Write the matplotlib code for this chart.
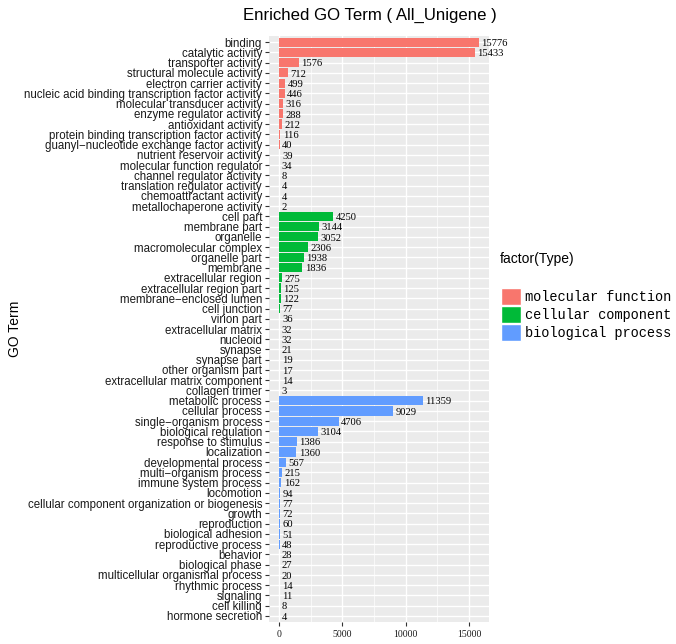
import matplotlib.pyplot as plt
from matplotlib.patches import Patch
from matplotlib.ticker import MultipleLocator

# 分子功能
mf_terms = ['binding', 'catalytic activity', 'transporter activity', 'structural molecule activity',
            'electron carrier activity', 'nucleic acid binding transcription factor activity',
            'molecular transducer activity', 'enzyme regulator activity', 'antioxidant activity',
            'protein binding transcription factor activity', 'guanyl\u2212nucleotide exchange factor activity',
            'nutrient reservoir activity', 'molecular function regulator', 'channel regulator activity',
            'translation regulator activity', 'chemoattractant activity', 'metallochaperone activity']
mf_counts = [15776, 15433, 1576, 712, 499, 446, 316, 288, 212, 116, 40, 39, 34, 8, 4, 4, 2]

# 细胞组分
cc_terms = ['cell part', 'membrane part', 'organelle', 'macromolecular complex', 'organelle part',
            'membrane', 'extracellular region', 'extracellular region part', 'membrane\u2212enclosed lumen',
            'cell junction', 'virion part', 'extracellular matrix', 'nucleoid', 'synapse', 'synapse part',
            'other organism part', 'extracellular matrix component', 'collagen trimer']
cc_counts = [4250, 3144, 3052, 2306, 1938, 1836, 275, 125, 122, 77, 36, 32, 32, 21, 19, 17, 14, 3]

# 生物过程
bp_terms = ['metabolic process', 'cellular process', 'single\u2212organism process', 'biological regulation',
            'response to stimulus', 'localization', 'developmental process', 'multi\u2212organism process',
            'immune system process', 'locomotion', 'cellular component organization or biogenesis',
            'growth', 'reproduction', 'biological adhesion', 'reproductive process', 'behavior',
            'biological phase', 'multicellular organismal process', 'rhythmic process', 'signaling',
            'cell killing', 'hormone secretion']
bp_counts = [11359, 9029, 4706, 3104, 1386, 1360, 567, 215, 162, 94, 77, 72, 60, 51, 48, 28, 27,
             20, 14, 11, 8, 4]

type_names = ['molecular function', 'cellular component', 'biological process']
type_colors = ['#F8766D', '#00BA38', '#619CFF']

terms = mf_terms + cc_terms + bp_terms
counts = mf_counts + cc_counts + bp_counts
colors = ([type_colors[0]] * len(mf_terms) + [type_colors[1]] * len(cc_terms)
          + [type_colors[2]] * len(bp_terms))

n = len(terms)
ypos = list(range(n))

fig = plt.figure(figsize=(6.76, 6.44), dpi=100)
ax = fig.add_axes([269 / 676, 1 - 622 / 644, 220 / 676, 586 / 644])
ax.set_facecolor('#EBEBEB')

ax.barh(ypos, counts, height=0.9, color=colors, zorder=3)
# 数值标签
for y, c in zip(ypos, counts):
    ax.annotate(str(c), (c, y + 0.12), xytext=(1.8, 0), textcoords='offset points',
                ha='left', va='center', fontsize=7.6, family='Liberation Serif',
                color='black', zorder=4)

# 坐标轴范围（仿 ggplot 的扩展）
xmax = max(counts)
ax.set_xlim(-0.05 * xmax, 1.05 * xmax)
ax.set_ylim(n - 0.4, -0.6)

ax.set_yticks(ypos)
ax.set_yticklabels(terms, family='Liberation Sans', fontsize=8.3, color='#1a1a1a')
ax.xaxis.set_major_locator(MultipleLocator(5000))
ax.xaxis.set_minor_locator(MultipleLocator(2500))
for lab in ax.get_xticklabels():
    lab.set_family('Liberation Serif')
ax.tick_params(axis='x', labelsize=7, colors='#333333', labelcolor='#1a1a1a',
               length=3, width=0.8, pad=2.5)
ax.tick_params(axis='x', which='minor', length=0)
ax.tick_params(axis='y', colors='#333333', labelcolor='#1a1a1a', length=3, width=0.8, pad=2)

# 网格线
ax.grid(True, which='major', color='white', linewidth=1.0, zorder=0)
ax.grid(True, which='minor', axis='x', color='white', linewidth=0.5, zorder=0)
ax.set_axisbelow(True)
for s in ax.spines.values():
    s.set_visible(False)

ax.set_ylabel('GO Term', family='Liberation Sans', fontsize=10)
ax.yaxis.set_label_coords((22 - 269) / 220, 0.5)
fig.text(370 / 676, 1 - 15 / 644, 'Enriched GO Term ( All_Unigene )', ha='center', va='center',
         family='Liberation Sans', fontsize=12.1)

# 图例
fig.text(500 / 676, 1 - 259 / 644, 'factor(Type)', ha='left', va='center',
         family='Liberation Sans', fontsize=10)
handles = [Patch(facecolor=c, edgecolor='white', label=t) for c, t in zip(type_colors, type_names)]
fig.legend(handles=handles, loc='upper left', bbox_to_anchor=(496 / 676, 1 - 283 / 644),
           frameon=False, prop={'family': 'Liberation Mono', 'size': 9.8},
           handlelength=1.45, handleheight=1.55, handletextpad=0.25, labelspacing=0.05,
           borderaxespad=0)

fig.savefig('out.png', dpi=100)
